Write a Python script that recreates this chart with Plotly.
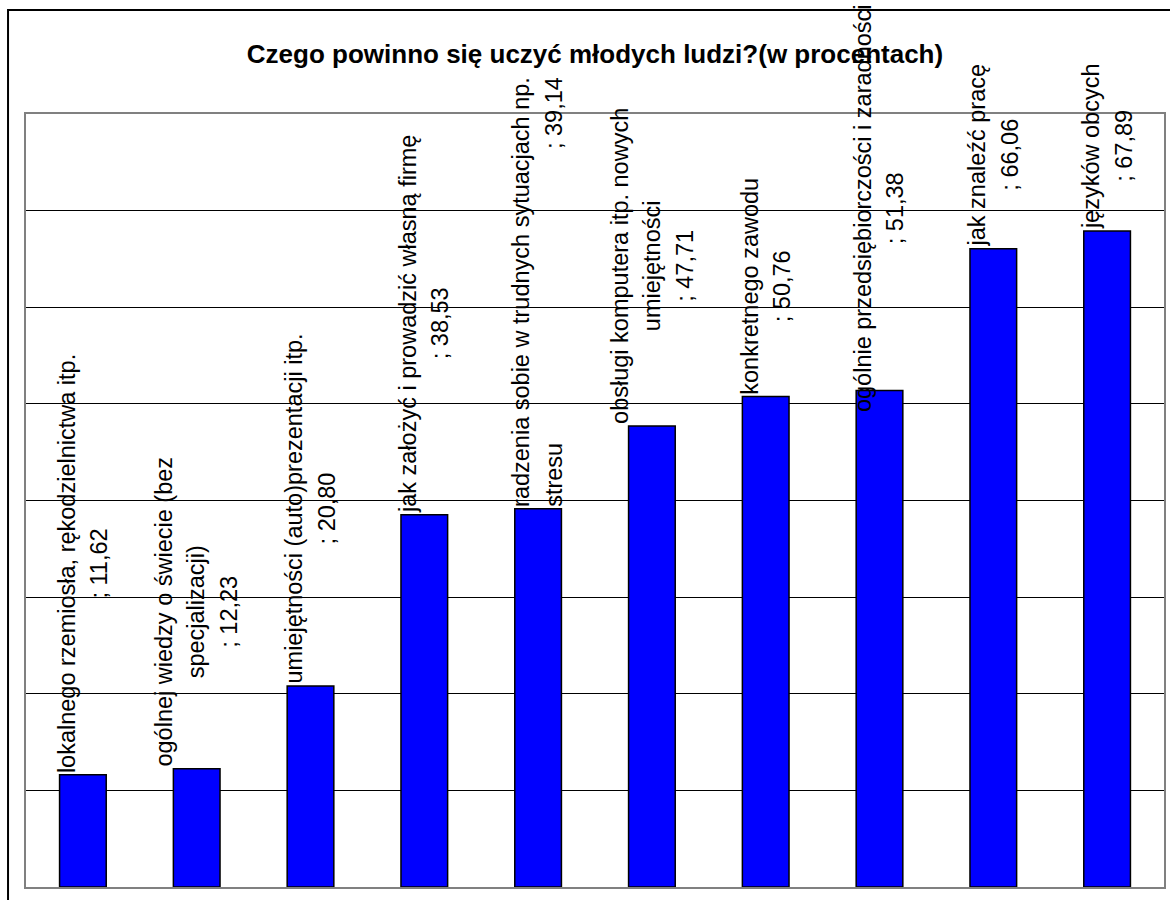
import plotly.graph_objects as go

# ---------------- data ----------------
categories = [
    "lokalnego rzemiosła, rękodzielnictwa itp.",
    "ogólnej wiedzy o świecie (bez specjalizacji)",
    "umiejętności (auto)prezentacji itp.",
    "jak założyć i prowadzić własną firmę",
    "radzenia sobie w trudnych sytuacjach np. stresu",
    "obsługi komputera itp. nowych umiejętności",
    "konkretnego zawodu",
    "ogólnie przedsiębiorczości i zaradności",
    "jak znaleźć pracę",
    "języków obcych",
]
values = [11.62, 12.23, 20.80, 38.53, 39.14, 47.71, 50.76, 51.38, 66.06, 67.89]
title_text = "Czego powinno się uczyć młodych ludzi?(w procentach)"

# label wrapping (text layout of the data labels); {v} = value, {pad} = spacing
label_templates = [
    ["lokalnego rzemiosła, rękodzielnictwa itp.", "; {v}"],
    ["ogólnej wiedzy o świecie (bez", "specjalizacji)", "; {v}"],
    ["umiejętności (auto)prezentacji itp.", "; {v}"],
    ["jak założyć i prowadzić własną firmę", "; {v}"],
    ["radzenia sobie w trudnych sytuacjach np.", "stresu{pad}; {v}"],
    ["obsługi komputera itp. nowych", "umiejętności", "; {v}"],
    ["konkretnego zawodu", "; {v}"],
    ["ogólnie przedsiębiorczości i zaradności", "; {v}"],
    ["jak znaleźć pracę", "; {v}"],
    ["języków obcych", "; {v}"],
]

# ---------------- style ----------------
FONT = "Liberation Sans, Arial, sans-serif"
LABEL_SIZE = 23.5
LINE_SIZE = 25.0          # controls line spacing of the labels
label_yshift = [0, 0, 0, 0, 0, 0, 0, -24, 0, 0]
PAD = "\u00a0" * 45

W, H = 1170, 900
ML, MR, MT, MB = 26, 4, 114, 13

fig = go.Figure()
fig.add_trace(go.Bar(
    x=categories,
    y=values,
    marker=dict(color="#0000FF", line=dict(color="#000000", width=1.5)),
    hoverinfo="skip",
))

annotations = []
for cat, val, tmpl, ys in zip(categories, values, label_templates, label_yshift):
    vtxt = f"{val:.2f}".replace(".", ",")
    lines = [t.replace("{v}", vtxt).replace("{pad}", PAD) for t in tmpl]
    text = "<br>".join(f'<span style="font-size:{LABEL_SIZE}px">{ln}</span>' for ln in lines)
    annotations.append(dict(
        x=cat, y=val, xref="x", yref="y",
        text=text, showarrow=False, textangle=-90,
        xanchor="center", yanchor="bottom", align="center",
        yshift=ys, borderpad=1,
        font=dict(family=FONT, size=LINE_SIZE, color="#000000"),
    ))

pw = W - ML - MR
ph = H - MT - MB
frame = dict(
    type="rect", xref="paper", yref="paper",
    x0=(8 - ML) / pw, x1=(W + 20 - ML) / pw,
    y0=(H - MB - (H + 20)) / ph, y1=(H - MB - 10) / ph,
    line=dict(color="#000000", width=2), fillcolor="rgba(0,0,0,0)",
    layer="above",
)

fig.update_layout(
    width=W, height=H,
    margin=dict(l=ML, r=MR, t=MT, b=MB, pad=0),
    paper_bgcolor="#FFFFFF", plot_bgcolor="#FFFFFF",
    showlegend=False,
    bargap=0.59,
    title=dict(
        text=title_text,
        font=dict(family=FONT, size=26, color="#000000", weight="bold"),
        x=0.5, xref="paper", xanchor="center",
        y=1 - 54 / H, yref="container", yanchor="middle",
    ),
    xaxis=dict(
        showticklabels=False, ticks="", showgrid=False, zeroline=False,
        showline=True, linecolor="#808080", linewidth=1.5, mirror=True,
        range=[-0.5, len(categories) - 0.5], fixedrange=True,
    ),
    yaxis=dict(
        range=[0, 80], dtick=10, showticklabels=False, ticks="",
        showgrid=True, gridcolor="#000000", gridwidth=1, zeroline=False,
        showline=True, linecolor="#808080", linewidth=1.5, mirror=True,
        fixedrange=True,
    ),
    annotations=annotations,
    shapes=[frame],
)

fig.write_html(
    "out.html",
    config={"displayModeBar": False},
    post_script="document.body.style.margin='0px';document.body.style.overflow='hidden';",
)
